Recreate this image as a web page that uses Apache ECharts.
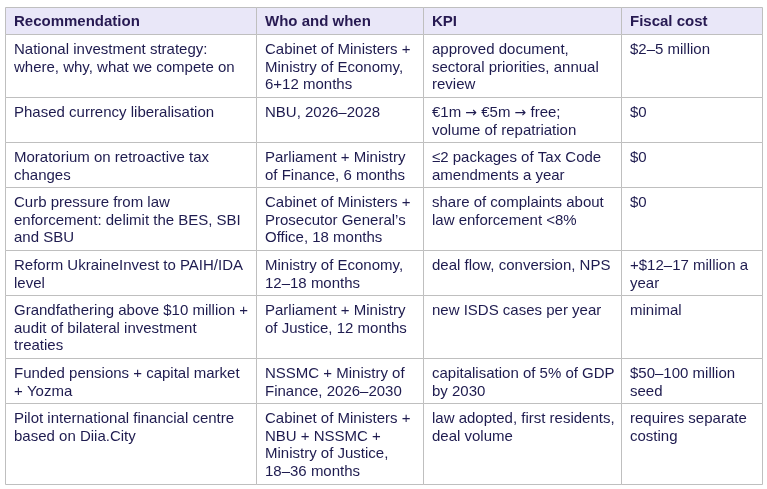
<!DOCTYPE html>
<html>
<head>
<meta charset="utf-8">
<script src="https://cdn.jsdelivr.net/npm/echarts@6/dist/echarts.min.js"></script>
<style>
  html, body { margin: 0; padding: 0; background: #fff; }
  #main { width: 767px; height: 489px; }
</style>
</head>
<body>
<div id="main"></div>
<script>
// table content
var headers = ['Recommendation', 'Who and when', 'KPI', 'Fiscal cost'];

var recommendations = [
    'National investment strategy:\nwhere, why, what we compete on',
    'Phased currency liberalisation',
    'Moratorium on retroactive tax\nchanges',
    'Curb pressure from law\nenforcement: delimit the BES, SBI\nand SBU',
    'Reform UkraineInvest to PAIH/IDA\nlevel',
    'Grandfathering above $10 million +\naudit of bilateral investment\ntreaties',
    'Funded pensions + capital market\n+ Yozma',
    'Pilot international financial centre\nbased on Diia.City'
];

var whoWhen = [
    'Cabinet of Ministers +\nMinistry of Economy,\n6+12 months',
    'NBU, 2026–2028',
    'Parliament + Ministry\nof Finance, 6 months',
    'Cabinet of Ministers +\nProsecutor General’s\nOffice, 18 months',
    'Ministry of Economy,\n12–18 months',
    'Parliament + Ministry\nof Justice, 12 months',
    'NSSMC + Ministry of\nFinance, 2026–2030',
    'Cabinet of Ministers +\nNBU + NSSMC +\nMinistry of Justice,\n18–36 months'
];

var kpi = [
    'approved document,\nsectoral priorities, annual\nreview',
    '€1m → €5m → free;\nvolume of repatriation',
    '≤2 packages of Tax Code\namendments a year',
    'share of complaints about\nlaw enforcement <8%',
    'deal flow, conversion, NPS',
    'new ISDS cases per year',
    'capitalisation of 5% of GDP\nby 2030',
    'law adopted, first residents,\ndeal volume'
];

var fiscalCost = [
    '$2–5 million',
    '$0',
    '$0',
    '$0',
    '+$12–17 million a\nyear',
    'minimal',
    '$50–100 million\nseed',
    'requires separate\ncosting'
];

// layout
var colWidths = [251, 167, 198, 141];
var headerHeight = 27;
var lineStep = 18;
var rowPad = 9;

var columns = [recommendations, whoWhen, kpi, fiscalCost];
var colEdges = [0];
colWidths.forEach(function (w, i) { colEdges.push(colEdges[i] + w); });

function lineCount(s) { return s.split('\n').length; }

var rowEdges = [0, headerHeight];
recommendations.forEach(function (r, i) {
    var n = Math.max(lineCount(recommendations[i]), lineCount(whoWhen[i]),
        lineCount(kpi[i]), lineCount(fiscalCost[i]));
    rowEdges.push(rowEdges[rowEdges.length - 1] + rowPad + lineStep * n);
});
var totalHeight = rowEdges[rowEdges.length - 1];
var totalWidth = colEdges[colEdges.length - 1];

var cells = [];
headers.forEach(function (h, c) { cells.push([c, 0, h]); });
recommendations.forEach(function (r, i) {
    columns.forEach(function (col, c) { cells.push([c, i + 1, col[i]]); });
});

// arrows are drawn in DejaVu Sans so they keep full size
function richText(s) {
    return s.replace(/→/g, '{a|→}');
}

var myChart = echarts.init(document.getElementById('main'), null, { renderer: 'canvas' });

option = {
    animation: false,
    grid: { left: 5, top: 7, width: totalWidth, height: totalHeight },
    xAxis: { type: 'value', min: 0, max: totalWidth, show: false },
    yAxis: { type: 'value', min: 0, max: totalHeight, inverse: true, show: false },
    series: [{
        type: 'custom',
        data: cells,
        renderItem: function (params, api) {
            var c = api.value(0), r = api.value(1);
            var text = cells[params.dataIndex][2];
            var p0 = api.coord([colEdges[c], rowEdges[r]]);
            var p1 = api.coord([colEdges[c + 1], rowEdges[r + 1]]);
            var x0 = Math.round(p0[0]) + 0.5, y0 = Math.round(p0[1]) + 0.5;
            var x1 = Math.round(p1[0]) + 0.5, y1 = Math.round(p1[1]) + 0.5;
            var isHeader = r === 0;
            var color = isHeader ? '#271a52' : '#1e1b4f';
            return {
                type: 'group',
                children: [{
                    type: 'rect',
                    shape: { x: x0, y: y0, width: x1 - x0, height: y1 - y0 },
                    style: { fill: isHeader ? '#e9e7f8' : '#ffffff', stroke: '#bfbfbf', lineWidth: 1 }
                }, {
                    type: 'text',
                    x: x0 + 8.5,
                    y: isHeader ? y0 + 5.5 : y0 + 7,
                    style: {
                        text: richText(text),
                        fill: color,
                        font: (isHeader ? 'bold ' : '') + '15px "Liberation Sans", Arial, sans-serif',
                        lineHeight: 17.5,
                        verticalAlign: 'top',
                        align: 'left',
                        rich: {
                            a: {
                                fontFamily: '"DejaVu Sans", sans-serif',
                                fontSize: 14,
                                lineHeight: 17.5,
                                fill: color
                            }
                        }
                    }
                }]
            };
        }
    }]
};

myChart.setOption(option);
</script>
</body>
</html>
